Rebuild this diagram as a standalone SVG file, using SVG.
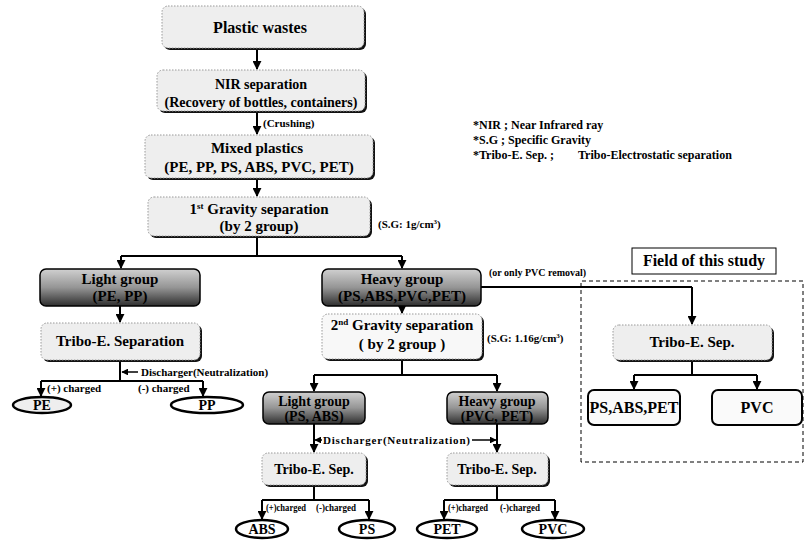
<svg xmlns="http://www.w3.org/2000/svg" width="806" height="549" viewBox="0 0 806 549" font-family="Liberation Serif, Times New Roman, serif" font-weight="bold">
<defs>
<linearGradient id="dk" x1="0" y1="0" x2="0" y2="1">
<stop offset="0" stop-color="#d0d0d0"/>
<stop offset="0.5" stop-color="#959595"/>
<stop offset="1" stop-color="#2e2e2e"/>
</linearGradient>
<marker id="ah" viewBox="0 0 10 10" refX="9" refY="5" markerWidth="4.5" markerHeight="4.5" orient="auto" markerUnits="strokeWidth">
<path d="M0,0 L10,5 L0,10 z" fill="#000"/>
</marker>
<style>
.t16{font-size:16px;text-anchor:middle}
.t15{font-size:15px;text-anchor:middle}
.t14{font-size:14px;text-anchor:middle}
.s11{font-size:11px}
.s10{font-size:10px}
.s12{font-size:12px}
.sh{fill:#111}
.lb{fill:#eeeeee;stroke:#999;stroke-width:1;stroke-dasharray:1.5 1.5}
.db{fill:url(#dk);stroke:#000;stroke-width:1.5}
.wb{fill:#fafafa;stroke:#000;stroke-width:2}
.el{fill:#fff;stroke:#000;stroke-width:2.5}
.ln{fill:none;stroke:#000;stroke-width:2}
.ar{fill:none;stroke:#000;stroke-width:2;marker-end:url(#ah)}
.ar1{fill:none;stroke:#000;stroke-width:1.5;marker-end:url(#ah)}
.dash{fill:none;stroke:#000;stroke-width:1;stroke-dasharray:4 3}
</style>
</defs>
<rect width="806" height="549" fill="#fff"/>

<g id="connectors">
<path class="ar" d="M257 48 V69"/>
<path class="ar" d="M257 111 V134"/>
<path class="ar" d="M257 178 V196"/>
<path class="ln" d="M257 236 V256 M121 256 H402"/>
<path class="ar" d="M121 256 V268"/>
<path class="ar" d="M402 256 V268"/>
<path class="ar" d="M120 306 V322"/>
<path class="ln" d="M120 360 V381 M41 381 H203"/>
<path class="ar1" d="M138 372 H122"/>
<path class="ar" d="M41 381 V396"/>
<path class="ar" d="M203 381 V396"/>
<path class="ar" d="M402 306 V313"/>
<path class="ln" d="M481 287 H692"/>
<path class="ar" d="M692 287 V324"/>
<path class="ln" d="M402 359 V375 M314 375 H497"/>
<path class="ar" d="M314 375 V391"/>
<path class="ar" d="M497 375 V391"/>
<path class="ar" d="M314 424 V452"/>
<path class="ar" d="M497 424 V452"/>
<path class="ar1" d="M322 440 H315"/>
<path class="ar1" d="M472 440 H496"/>
<path class="ln" d="M314 485 V500 M262 500 H369"/>
<path class="ar" d="M262 500 V519"/>
<path class="ar" d="M369 500 V519"/>
<path class="ln" d="M497 485 V500 M444 500 H555"/>
<path class="ar" d="M444 500 V519"/>
<path class="ar" d="M555 500 V519"/>
<path class="ln" d="M692 360 V375 M634 375 H757"/>
<path class="ar" d="M634 375 V389"/>
<path class="ar" d="M757 375 V389"/>
<path class="dash" d="M581 462 V281 H803 V462 Z"/>
</g>

<g id="plastic-wastes">
<rect class="sh" x="164" y="8" width="202" height="42" rx="6"/>
<rect class="lb" x="162" y="6" width="202" height="42" rx="6"/>
<text class="t16" x="260" y="33">Plastic wastes</text>
</g>
<g id="nir">
<rect class="sh" x="159" y="72" width="208" height="41" rx="6"/>
<rect class="lb" x="157" y="70" width="208" height="41" rx="6"/>
<text class="t14" x="261" y="89">NIR separation</text>
<text class="t14" x="261" y="107">(Recovery of bottles, containers)</text>
</g>
<text class="s11" x="263" y="127">(Crushing)</text>
<g id="mixed">
<rect class="sh" x="147" y="137" width="228" height="43" rx="6"/>
<rect class="lb" x="145" y="135" width="228" height="43" rx="6"/>
<text class="t15" x="257" y="153">Mixed plastics</text>
<text class="t15" x="259" y="172">(PE, PP, PS, ABS, PVC, PET)</text>
</g>
<g id="gravity1">
<rect class="sh" x="150" y="199" width="222" height="39" rx="6"/>
<rect class="lb" x="148" y="197" width="222" height="39" rx="6"/>
<text class="t15" x="259" y="214">1<tspan font-size="9" dy="-5">st</tspan><tspan dy="5"> Gravity separation</tspan></text>
<text class="t15" x="259" y="231">(by 2 group)</text>
</g>
<text class="s11" x="378" y="228">(S.G: 1g/cm<tspan font-size="7" dy="-4">3</tspan><tspan dy="4">)</tspan></text>

<g id="legend">
<text class="s12" x="473" y="129">*NIR ; Near Infrared ray</text>
<text class="s12" x="473" y="144">*S.G ; Specific Gravity</text>
<text class="s12" x="473" y="159">*Tribo-E. Sep. ;<tspan x="578">Tribo-Electrostatic separation</tspan></text>
</g>

<g id="light-group-1">
<rect class="db" x="40" y="269" width="160" height="37" rx="6"/>
<text class="t15" x="120" y="284">Light group</text>
<text class="t15" x="120" y="301">(PE, PP)</text>
</g>
<g id="tribo-1">
<rect class="sh" x="43" y="325" width="159" height="37" rx="6"/>
<rect class="lb" x="41" y="323" width="159" height="37" rx="6"/>
<text class="t15" x="120" y="346">Tribo-E. Separation</text>
</g>
<text class="s11" x="141" y="376">Discharger(Neutralization)</text>
<text class="s11" x="47" y="392">(+) charged</text>
<text class="s11" x="138" y="392">(-) charged</text>
<g id="pe">
<ellipse class="el" cx="42" cy="405" rx="29" ry="8" style="fill:#eee"/>
<text class="t14" x="42" y="410">PE</text>
</g>
<g id="pp">
<ellipse class="el" cx="207" cy="405" rx="36" ry="8"/>
<text class="t14" x="207" y="410">PP</text>
</g>

<g id="heavy-group-1">
<rect class="db" x="322" y="269" width="159" height="37" rx="6"/>
<text class="t15" x="402" y="284">Heavy group</text>
<text class="t15" x="402" y="301">(PS,ABS,PVC,PET)</text>
</g>
<text class="s10" x="489" y="276">(or only PVC removal)</text>
<g id="gravity2">
<rect class="sh" x="324" y="316" width="160" height="45" rx="6"/>
<rect class="lb" x="322" y="314" width="160" height="45" rx="6" style="fill:#f8f8f8"/>
<text class="t15" x="402" y="330">2<tspan font-size="9" dy="-5">nd</tspan><tspan dy="5"> Gravity separation</tspan></text>
<text class="t15" x="402" y="349">( by 2 group )</text>
</g>
<text class="s11" x="487" y="342">(S.G: 1.16g/cm<tspan font-size="7" dy="-4">3</tspan><tspan dy="4">)</tspan></text>

<g id="light-group-2">
<rect class="db" x="263" y="392" width="102" height="32" rx="6"/>
<text class="t14" x="314" y="406">Light group</text>
<text class="t14" x="314" y="421">(PS, ABS)</text>
</g>
<g id="heavy-group-2">
<rect class="db" x="447" y="392" width="101" height="32" rx="6"/>
<text class="t14" x="497" y="406">Heavy group</text>
<text class="t14" x="497" y="421">(PVC, PET)</text>
</g>
<text class="s11" x="323" y="444" textLength="147" lengthAdjust="spacing">Discharger(Neutralization)</text>
<g id="tribo-2">
<rect class="sh" x="264" y="455" width="104" height="32" rx="6"/>
<rect class="lb" x="262" y="453" width="104" height="32" rx="6"/>
<text class="t14" x="314" y="474">Tribo-E. Sep.</text>
</g>
<g id="tribo-3">
<rect class="sh" x="449" y="455" width="101" height="32" rx="6"/>
<rect class="lb" x="447" y="453" width="101" height="32" rx="6"/>
<text class="t14" x="497" y="474">Tribo-E. Sep.</text>
</g>
<text class="s10" x="266" y="511" textLength="40" lengthAdjust="spacingAndGlyphs">(+)charged</text>
<text class="s10" x="316" y="511" textLength="40" lengthAdjust="spacingAndGlyphs">(-)charged</text>
<text class="s10" x="448" y="511" textLength="40" lengthAdjust="spacingAndGlyphs">(+)charged</text>
<text class="s10" x="500" y="511" textLength="40" lengthAdjust="spacingAndGlyphs">(-)charged</text>
<g id="abs">
<ellipse class="el" cx="262" cy="529" rx="26" ry="9"/>
<text class="t14" x="262" y="534">ABS</text>
</g>
<g id="ps">
<ellipse class="el" cx="367" cy="529" rx="28" ry="9"/>
<text class="t14" x="367" y="534">PS</text>
</g>
<g id="pet">
<ellipse class="el" cx="447" cy="529" rx="30" ry="9"/>
<text class="t14" x="447" y="534">PET</text>
</g>
<g id="pvc-1">
<ellipse class="el" cx="553" cy="529" rx="31" ry="9"/>
<text class="t14" x="553" y="534">PVC</text>
</g>

<g id="field">
<rect x="632" y="248" width="144" height="26" fill="#fff" stroke="#000" stroke-width="1"/>
<text class="t16" x="704" y="266">Field of this study</text>
</g>
<g id="tribo-4">
<rect class="sh" x="615" y="327" width="159" height="35" rx="6"/>
<rect class="lb" x="613" y="325" width="159" height="35" rx="6"/>
<text class="t15" x="692" y="347">Tribo-E. Sep.</text>
</g>
<g id="ps-abs-pet">
<rect class="wb" x="588" y="390" width="92" height="35" rx="6"/>
<text class="t16" x="634" y="413">PS,ABS,PET</text>
</g>
<g id="pvc-2">
<rect class="wb" x="712" y="390" width="90" height="35" rx="6"/>
<text class="t16" x="757" y="413">PVC</text>
</g>
</svg>
